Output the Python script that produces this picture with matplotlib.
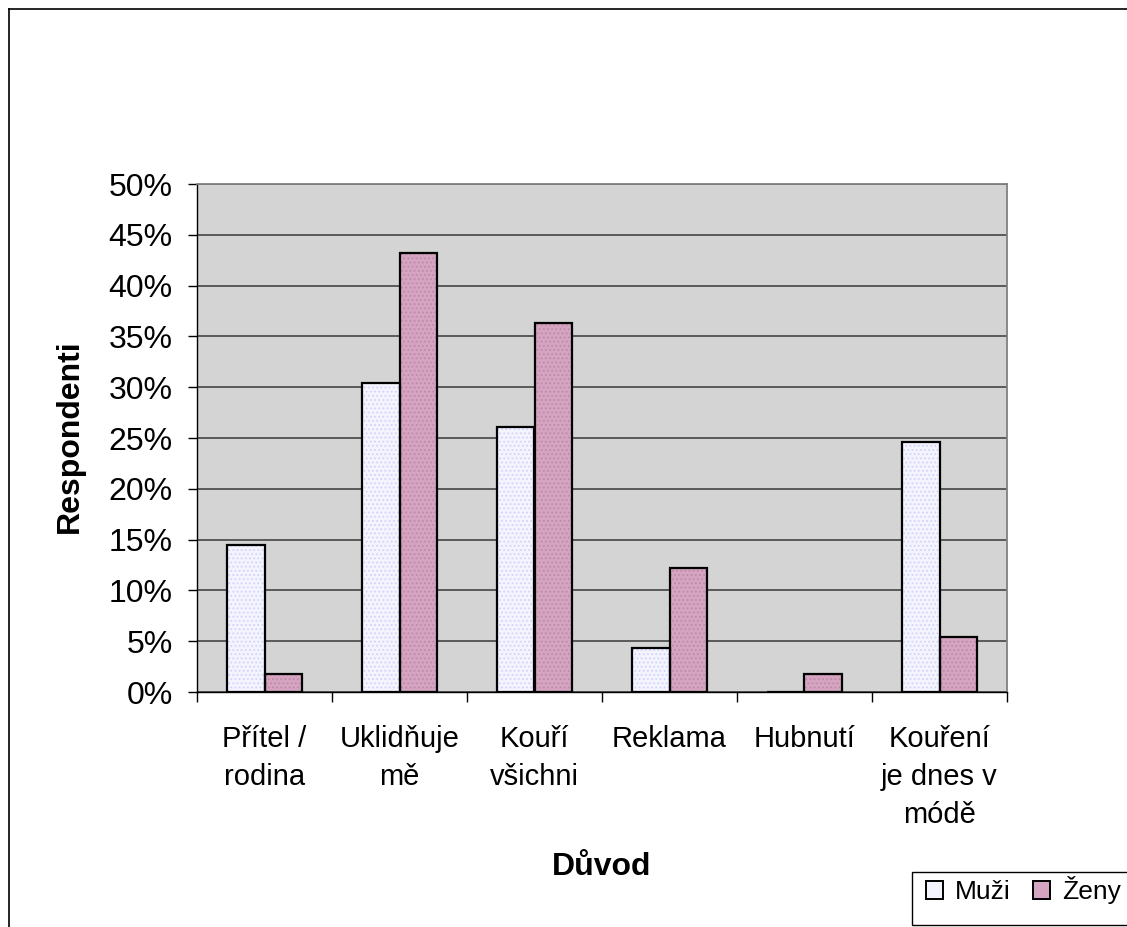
import matplotlib
matplotlib.use("Agg")
import matplotlib.pyplot as plt
from matplotlib.lines import Line2D
from matplotlib.patches import Patch, Rectangle
from matplotlib.ticker import PercentFormatter
import numpy as np

plt.rcParams['font.family'] = ['Liberation Sans', 'DejaVu Sans']
plt.rcParams['hatch.linewidth'] = 0.8

# Data
categories = ["Přítel /\nrodina", "Uklidňuje\nmě", "Kouří\nvšichni", "Reklama",
              "Hubnutí", "Kouření\nje dnes v\nmódě"]
muzi = [14.5, 30.4, 26.1, 4.3, 0.0, 24.6]
zeny = [1.8, 43.2, 36.3, 12.2, 1.8, 5.4]
series_names = ["Muži", "Ženy"]

W, H = 1127, 927
fig = plt.figure(figsize=(W / 100, H / 100), dpi=100)
fig.patch.set_facecolor("white")

ax = fig.add_axes([197 / W, (H - 692) / H, 810 / W, 508 / H])
ax.set_facecolor("#D4D4D4")

# fill colour + dotted pattern colour per series
muzi_color, muzi_dots = "#F4F4FF", "#D2D2FA"
zeny_color, zeny_dots = "#D4A4C0", "#BF8AAA"

x = np.arange(len(categories))
bw = 0.28
for offset, vals, fc, dc, name in [(-bw / 2, muzi, muzi_color, muzi_dots, series_names[0]),
                                   (bw / 2, zeny, zeny_color, zeny_dots, series_names[1])]:
    heights = np.array(vals) / 100
    ax.bar(x + offset, heights, bw, color=fc, edgecolor=dc, hatch="....",
           linewidth=0, zorder=3)
    ax.bar(x + offset, heights, bw, fill=False, edgecolor="black",
           linewidth=1.6, zorder=4, label=name)

ax.set_xlim(-0.5, len(categories) - 0.5)
ax.set_ylim(0, 0.5)
ax.set_yticks(np.arange(0, 0.501, 0.05))
ax.yaxis.set_major_formatter(PercentFormatter(1.0, decimals=0))
ax.grid(axis="y", color="#505050", linewidth=1.3, zorder=1)
ax.set_axisbelow(True)

# category labels at centres, boundary tick marks
ax.set_xticks(x)
ax.set_xticklabels(categories, linespacing=1.45)
ax.tick_params(axis="x", which="major", length=0, pad=24, labelsize=21)
ax.set_xticks(np.arange(-0.5, len(categories) + 0.5, 1), minor=True)
ax.tick_params(axis="x", which="minor", length=7, width=1.0, color="black",
               direction="out")
ax.tick_params(axis="y", length=6.5, width=1.0, direction="out", pad=11,
               labelsize=23)

for s in ["left", "bottom"]:
    ax.spines[s].set_color("black")
    ax.spines[s].set_linewidth(1.0)
for s in ["top", "right"]:
    ax.spines[s].set_color("#808080")
    ax.spines[s].set_linewidth(1.3)

ax.set_ylabel("Respondenti", fontsize=23, fontweight="bold")
ax.yaxis.set_label_coords((70 - 197) / 810, (692 - 436) / 508)
ax.yaxis.label.set_verticalalignment("center")
ax.set_xlabel("Důvod", fontsize=23, fontweight="bold")
ax.xaxis.set_label_coords(0.5, -(867 - 692) / 508)
ax.xaxis.label.set_verticalalignment("center")

# outer chart frame (left and top edges visible)
fig.add_artist(Line2D([8.5 / W, 8.5 / W], [0, 1 - 9 / H], color="black",
                      linewidth=1.2, transform=fig.transFigure))
fig.add_artist(Line2D([8.5 / W, 1], [1 - 9 / H, 1 - 9 / H], color="black",
                      linewidth=1.2, transform=fig.transFigure))

# legend box running off the right edge
fig.add_artist(Rectangle((912 / W, (H - 925) / H), 240 / W, (925 - 872) / H,
                         transform=fig.transFigure, facecolor="white",
                         edgecolor="black", linewidth=1.0, zorder=5))
handles = [Patch(facecolor=muzi_color, edgecolor="black", linewidth=1.4),
           Patch(facecolor=zeny_color, edgecolor="black", linewidth=1.4)]
leg = fig.legend(handles, series_names, loc="center left",
                 bbox_to_anchor=(926 / W, 1 - 890 / H), ncol=2, fontsize=19,
                 frameon=False, handlelength=0.65, handleheight=0.65,
                 handletextpad=0.45, columnspacing=0.85, borderpad=0,
                 borderaxespad=0)
leg.set_zorder(6)

fig.savefig("out.png", dpi=100)
